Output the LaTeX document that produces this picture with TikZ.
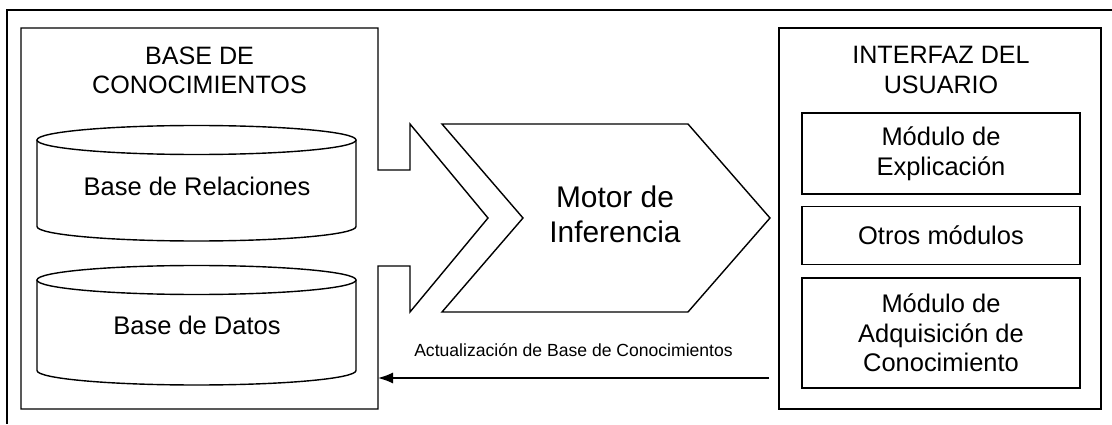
\documentclass[tikz,border=0pt]{standalone}
\usepackage{fontspec}
\setmainfont{Liberation Sans}
\usetikzlibrary{positioning}
\usetikzlibrary{arrows.meta}

\begin{document}
\begin{tikzpicture}[line width=0.8pt,
  title/.style={align=center, font=\fontsize{14.3}{16.8}\selectfont},
  cyltext/.style={font=\fontsize{14.5}{17}\selectfont},
  modbox/.style={draw, minimum width=5.56cm, align=center, font=\fontsize{14.5}{17}\selectfont}]
\useasboundingbox (0,0) rectangle (22.24,8.48);

% outer frame
\draw (22.24,8.28) -- (0.14,8.28) -- (0.14,0);

% knowledge base with its arrow
\draw (0.42,0.30) -- (7.56,0.30) -- (7.56,3.16) -- (8.2,3.16) -- (8.2,2.24) -- (9.76,4.12) -- (8.2,6.0) -- (8.2,5.08) -- (7.56,5.08) -- (7.56,7.92) -- (0.42,7.92) -- cycle;
\node [title, anchor=north] (kbtitle) at (3.99,7.68) {BASE DE\\CONOCIMIENTOS};

\draw (0.74,5.68) -- (0.74,3.95) arc (180:360:3.19 and 0.29) -- (7.12,5.68);
\draw (3.93,5.68) ellipse (3.19 and 0.29);
\node [cyltext] (relbase) at (3.94,4.76) {Base de Relaciones};

\draw (0.74,2.88) -- (0.74,1.07) arc (180:360:3.19 and 0.29) -- (7.12,2.88);
\draw (3.93,2.88) ellipse (3.19 and 0.29);
\node [cyltext] (datbase) at (3.94,1.98) {Base de Datos};

% inference engine
\draw (8.84,6.0) -- (13.76,6.0) -- (15.4,4.12) -- (13.76,2.24) -- (8.84,2.24) -- (10.46,4.12) -- cycle;
\node [align=center, font=\fontsize{17}{20}\selectfont] (motor) at (12.3,4.19) {Motor de\\Inferencia};

% user interface
\node [draw, minimum width=6.44cm, minimum height=7.62cm] (ui) at (18.8,4.11) {};
\node [title, anchor=north] (uititle) at (18.82,7.68) {INTERFAZ DEL\\USUARIO};
\node [modbox, minimum height=1.62cm] (expl) at (18.82,5.41) {Módulo de\\Explicación};
\node [modbox, minimum height=1.16cm, below=0.22cm of expl] (otros) {Otros módulos};
\node [modbox, minimum height=2.2cm, below=0.24cm of otros] (adq) {Módulo de\\Adquisición de\\Conocimiento};

\coordinate (updfrom) at (15.38,0.92);
\coordinate (updto) at (7.56,0.92);
\draw [-{Latex[length=0.3cm,width=0.22cm]}] (updfrom) -- (updto) node [midway, above=0.3cm, font=\fontsize{10}{12}\selectfont] (updlbl) {Actualización de Base de Conocimientos};

\end{tikzpicture}
\end{document}
